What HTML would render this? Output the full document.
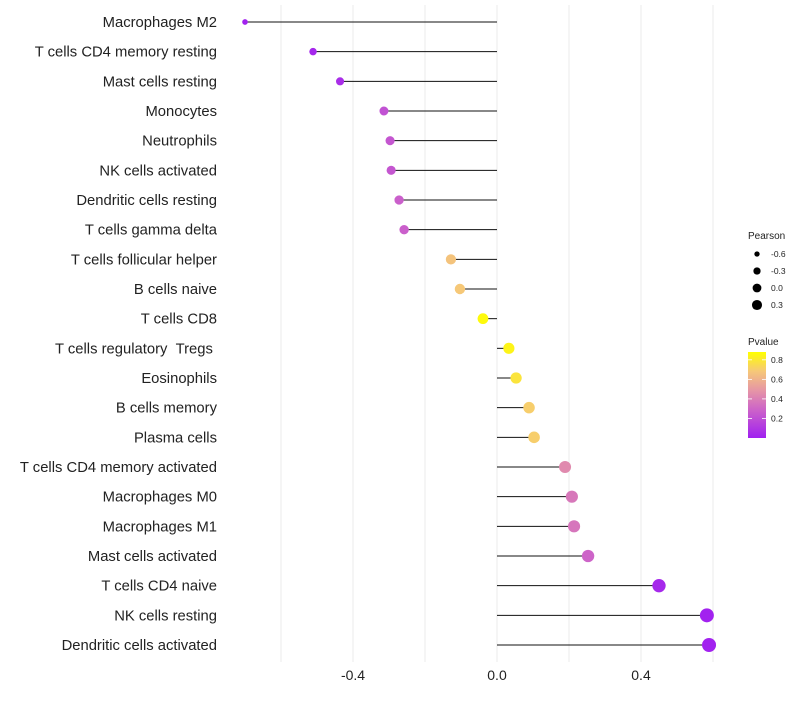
<!DOCTYPE html>
<html><head><meta charset="utf-8"><style>
body{margin:0;background:#fff;font-family:"Liberation Sans",sans-serif}
</style></head><body>
<svg id="chart" width="800" height="700" xmlns="http://www.w3.org/2000/svg" font-family="Liberation Sans, sans-serif"></svg>
<script>
const categories=["Macrophages M2","T cells CD4 memory resting","Mast cells resting","Monocytes","Neutrophils","NK cells activated","Dendritic cells resting","T cells gamma delta","T cells follicular helper","B cells naive","T cells CD8","T cells regulatory\u00a0\u00a0Tregs\u00a0","Eosinophils","B cells memory","Plasma cells","T cells CD4 memory activated","Macrophages M0","Macrophages M1","Mast cells activated","T cells CD4 naive","NK cells resting","Dendritic cells activated"];
const pearson=[-0.70,-0.511,-0.436,-0.314,-0.297,-0.294,-0.272,-0.258,-0.128,-0.103,-0.039,0.033,0.053,0.089,0.103,0.189,0.208,0.214,0.253,0.45,0.583,0.589];
const pvalues=[0.01,0.03,0.06,0.22,0.24,0.24,0.28,0.28,0.68,0.70,0.88,0.86,0.8,0.72,0.72,0.45,0.38,0.37,0.3,0.04,0.01,0.01];
const xTicks=[-0.4,0,0.4];
const xGrid=[-0.6,-0.4,-0.2,0,0.2,0.4,0.6];
const sizeLegend=[-0.6,-0.3,0.0,0.3];
const colorTicks=[0.2,0.4,0.6,0.8];

const svg=document.getElementById('chart');
const NS='http://www.w3.org/2000/svg';
function el(t,a,p){const e=document.createElementNS(NS,t);for(const k in a)e.setAttribute(k,a[k]);(p||svg).appendChild(e);return e;}
const x=v=>497+v*360;
const y=i=>22+i*(645-22)/21;
const rad=v=>Math.sqrt(Math.max(3,30.2+31.8*v));
const stops=[[0,[160,32,240]],[0.3,[205,100,200]],[0.5,[230,150,165]],[0.7,[246,200,120]],[0.9,[255,255,0]]];
function col(p){p=Math.max(0,Math.min(0.9,p));for(let i=1;i<stops.length;i++){if(p<=stops[i][0]){const [a,ca]=stops[i-1],[b,cb]=stops[i];const t=(p-a)/(b-a);return 'rgb('+ca.map((c,j)=>Math.round(c+(cb[j]-c)*t)).join(',')+')';}}return 'rgb(255,255,0)';}

xGrid.forEach(v=>{const g=el('line',{x1:x(v),x2:x(v),y1:5,y2:662,stroke:'#ebebeb','stroke-width':1});

});
xTicks.forEach(v=>{const t=el('text',{x:x(v),y:680,'text-anchor':'middle','font-size':14,fill:'#222'});t.textContent=v===0?'0.0':v.toFixed(1);

});
categories.forEach((c,i)=>{
const t=el('text',{x:217,y:y(i)+5,'text-anchor':'end','font-size':14.8,fill:'#222'});t.textContent=c;


const l=el('line',{x1:x(0),x2:x(pearson[i]),y1:y(i),y2:y(i),stroke:'#111','stroke-width':1});


const d=el('circle',{cx:x(pearson[i]),cy:y(i),r:rad(pearson[i]),fill:col(pvalues[i])});


});
let t=el('text',{x:748,y:239,'font-size':10,fill:'#222'});t.textContent='Pearson';


sizeLegend.forEach((v,i)=>{const cy=254+i*17;
const c=el('circle',{cx:757,cy:cy,r:rad(v)*0.8,fill:'#000'});


const tt=el('text',{x:771,y:cy+3,'font-size':8.5,fill:'#222'});tt.textContent=v.toFixed(1);

});
t=el('text',{x:748,y:345,'font-size':10,fill:'#222'});t.textContent='Pvalue';


const defs=el('defs',{});const lg=el('linearGradient',{id:'cg',x1:0,y1:1,x2:0,y2:0},defs);
stops.forEach(s=>el('stop',{offset:(s[0]/0.9),'stop-color':'rgb('+s[1].join(',')+')'},lg));
const bar=el('rect',{x:748,y:352,width:18,height:86,fill:'url(#cg)'});


colorTicks.forEach(v=>{const cy=438-v/0.88*86;
el('line',{x1:748,x2:752,y1:cy,y2:cy,stroke:'#fff','stroke-width':0.8});
el('line',{x1:762,x2:766,y1:cy,y2:cy,stroke:'#fff','stroke-width':0.8});
const tt=el('text',{x:771,y:cy+3,'font-size':8.5,fill:'#222'});tt.textContent=v.toFixed(1);

});
</script>
</body></html>
